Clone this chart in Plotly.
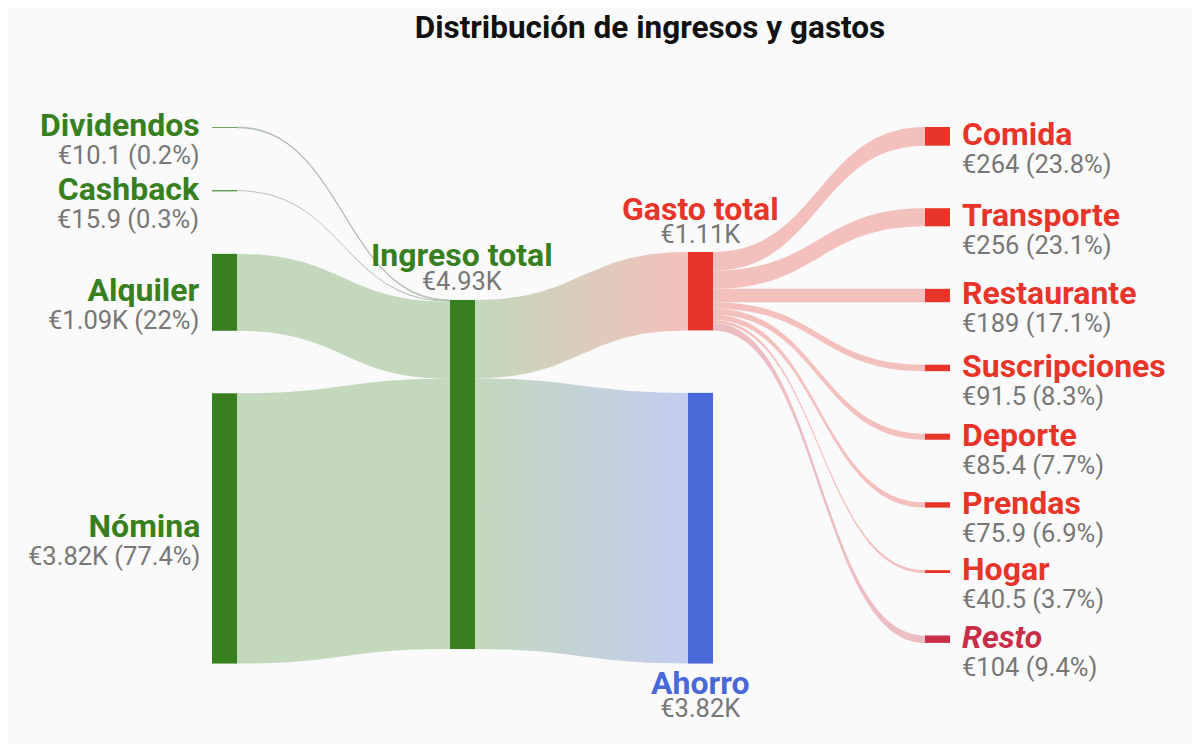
import numpy as np
import plotly.graph_objects as go

# ---------------- data ----------------
income_labels = ["Dividendos", "Cashback", "Alquiler", "Nómina"]
income_values = [10.1, 15.9, 1086, 3816]

expense_labels = ["Comida", "Transporte", "Restaurante", "Suscripciones",
                  "Deporte", "Prendas", "Hogar", "Resto"]
expense_values = [263.8, 255.9, 189.2, 91.5, 85.4, 75.9, 40.5, 104.4]

total_income = sum(income_values)
total_expense = sum(expense_values)
savings = total_income - total_expense

# ---------------- style ----------------
W, H = 1200, 744
OFF = 8  # page body margin: shift of the figure inside the window
BG = "#fafafa"
GREEN = "#38801f"
RED = "#e8352a"
BLUE = "#4a69d8"
CRIMSON = "#c92e48"
GRAY = "#777777"
LINK_GREEN = "rgb(195,216,189)"
LINK_THIN = "rgba(175,190,175,0.9)"
LINK_PINK = "rgb(244,192,190)"
LINK_RESTO = "rgb(236,190,196)"
LINK_LAVENDER = "rgb(196,205,240)"
FONT = "Roboto"
NAME_SIZE = 32
VAL_SIZE = 25.5
TITLE_SIZE = 31.5
ASC = 0.928  # Roboto ascent (em)

# geometry in window pixels
COL_LEFT = [212, 450, 688, 925]   # left edge of each node column
THICK = 25
TOP = 127                          # top of the node area
GAP = 62.5                         # visual gap between stacked nodes
PLOTLY_H = 488.7                   # height of the sankey domain box
PLOTLY_PAD = 200                   # gets capped by plotly.js

# node scale as plotly.js / d3-sankey computes it
columns = [income_values, [total_income], [total_expense, savings], expense_values]
L = max(len(c) for c in columns)
py = min(PLOTLY_PAD, (2 / 3) * PLOTLY_H / (L - 1))
ky = min((PLOTLY_H - (len(c) - 1) * py) / sum(c) for c in columns)


def stack(values, start):
    out, y = [], start
    for v in values:
        h = v * ky
        out.append((y, y + h))
        y += h + GAP
    return out


left = stack(income_values, 0)
area_h = left[-1][1]
right = stack(expense_values, 0)
col3_h = total_expense * ky + GAP + savings * ky
mid3 = stack([total_expense, savings], area_h - col3_h)
centers_left = [(a + b) / 2 for a, b in left]
ing_c = sum(c * v for c, v in zip(centers_left, income_values)) / total_income
ing = (ing_c - total_income * ky / 2, ing_c + total_income * ky / 2)

dom_l = COL_LEFT[0]
dom_r = COL_LEFT[-1] + THICK
DW = dom_r - dom_l

labels = income_labels + ["Ingreso total", "Gasto total", "Ahorro"] + expense_labels
spans = left + [ing] + mid3 + right
cols = [0] * 4 + [1, 2, 2] + [3] * len(expense_labels)
node_x = [(COL_LEFT[c] + THICK / 2 - dom_l) / DW for c in cols]
node_y = [((a + b) / 2) / PLOTLY_H for a, b in spans]
node_colors = [GREEN] * 5 + [RED, BLUE] + [RED] * 7 + [CRIMSON]

iI, iG, iA = 4, 5, 6
src, tgt, val, lcol = [], [], [], []
for i, v in enumerate(income_values):
    src.append(i); tgt.append(iI); val.append(v)
    lcol.append(LINK_THIN if v < 50 else LINK_GREEN)
# the two gradient links are painted underneath by filled scatter traces
src += [iI, iI]; tgt += [iG, iA]; val += [total_expense, savings]
lcol += ["rgba(0,0,0,0)", "rgba(0,0,0,0)"]
for j, v in enumerate(expense_values):
    src.append(iG); tgt.append(7 + j); val.append(v)
    lcol.append(LINK_RESTO if expense_labels[j] == "Resto" else LINK_PINK)


def fx(px):
    return (px - OFF) / W


def fy(px):
    return 1 - (px - OFF) / H


fig = go.Figure()

# gradient links Ingreso total -> Gasto total / Ahorro (same cubic path as the sankey)
x0 = COL_LEFT[1] + THICK
x1 = COL_LEFT[2]
xm = (x0 + x1) / 2
t = np.linspace(0, 1, 80)


def bez(a, b, c, d):
    return (1 - t) ** 3 * a + 3 * (1 - t) ** 2 * t * b + 3 * (1 - t) * t ** 2 * c + t ** 3 * d


slot = TOP + ing[0]
for k, (v, end_color) in enumerate([(total_expense, LINK_PINK), (savings, LINK_LAVENDER)]):
    w = v * ky
    s0, s1 = slot, slot + w
    tg = TOP + mid3[k][0]
    t0, t1 = tg, tg + w
    xt = bez(x0, xm, xm, x1)
    yt = bez(s0, s0, t0, t0)
    yb = bez(s1, s1, t1, t1)
    xs = np.concatenate([xt, xt[::-1]])
    ys = np.concatenate([yt, yb[::-1]])
    fig.add_trace(go.Scatter(
        x=xs, y=ys, mode="lines", line=dict(width=0), fill="toself",
        fillgradient=dict(type="horizontal", colorscale=[[0, LINK_GREEN], [1, end_color]],
                          start=x0, stop=x1),
        hoverinfo="skip", showlegend=False))
    slot = s1

fig.add_trace(go.Sankey(
    arrangement="fixed",
    domain=dict(x=[fx(dom_l), fx(dom_r)], y=[fy(TOP + PLOTLY_H), fy(TOP)]),
    node=dict(label=[""] * len(labels), x=node_x, y=node_y, pad=PLOTLY_PAD, thickness=THICK,
              color=node_colors, line=dict(width=0), align="left"),
    link=dict(source=src, target=tgt, value=val, color=lcol, line=dict(width=0)),
    hoverinfo="none",
))


def fmt(v):
    if v >= 1000:
        return f"€{v/1000:.3g}K"
    return f"€{v:.3g}"


def pct(v, tot):
    s = f"{v / tot * 100:.1f}"
    if s.endswith(".0"):
        s = s[:-2]
    return f"{s}%"


ann = []


def add(name, value, color, x_px, base_px, spacing, xanchor, italic=False):
    nm = f"<b>{name}</b>"
    if italic:
        nm = f"<i>{nm}</i>"
    text = (f"<span style='font-size:{NAME_SIZE}px;color:{color}'>{nm}</span><br>"
            f"<span style='font-size:{VAL_SIZE}px;color:{GRAY}'>{value}</span>")
    y_top = base_px - ASC * NAME_SIZE - 1
    ann.append(dict(text=text, x=fx(x_px), y=fy(y_top), xref="paper", yref="paper",
                    xanchor=xanchor, yanchor="top", align=xanchor, showarrow=False,
                    font=dict(family=FONT, size=spacing / 1.3, color=GRAY)))


# left labels
for i, name in enumerate(income_labels):
    c = TOP + (spans[i][0] + spans[i][1]) / 2
    add(name, f"{fmt(income_values[i])} ({pct(income_values[i], total_income)})", GREEN,
        COL_LEFT[0] - 10, c + 7.5, 28, "right")

# right labels
for j, name in enumerate(expense_labels):
    k = 7 + j
    c = TOP + (spans[k][0] + spans[k][1]) / 2
    color = CRIMSON if name == "Resto" else RED
    add(name, f"{fmt(expense_values[j])} ({pct(expense_values[j], total_expense)})", color,
        COL_LEFT[3] + THICK + 10, c + 7.5, 28, "left", italic=(name == "Resto"))

# middle labels
xc = COL_LEFT[1] + THICK / 2
add("Ingreso total", fmt(total_income), GREEN, xc, TOP + ing[0] - 35, 24.3, "center")
xc = COL_LEFT[2] + THICK / 2
add("Gasto total", fmt(total_expense), RED, xc, TOP + mid3[0][0] - 33.5, 23.4, "center")
add("Ahorro", fmt(savings), BLUE, xc, TOP + mid3[1][1] + 29, 23.4, "center")

fig.update_layout(
    width=W, height=H,
    margin=dict(l=0, r=0, t=0, b=0),
    paper_bgcolor=BG, plot_bgcolor="rgba(0,0,0,0)",
    font=dict(family=FONT),
    xaxis=dict(range=[OFF, W + OFF], visible=False, fixedrange=True),
    yaxis=dict(range=[H + OFF, OFF], visible=False, fixedrange=True),
    title=dict(text="<b>Distribución de ingresos y gastos</b>", x=fx(650), xanchor="center",
               y=fy(27), yanchor="middle", yref="container",
               font=dict(family=FONT, size=TITLE_SIZE, color="#111111")),
    annotations=ann,
    showlegend=False,
)

fig.write_html("out.html")
